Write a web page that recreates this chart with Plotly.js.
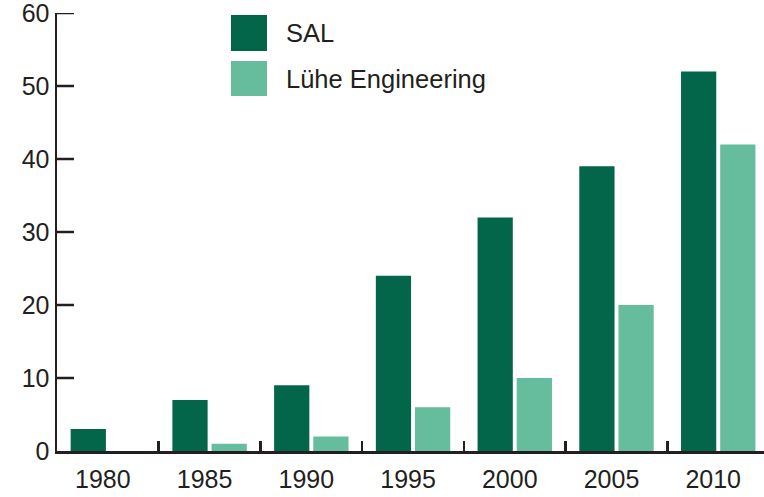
<!DOCTYPE html>
<html>
<head>
<meta charset="utf-8">
<script src="https://cdn.plot.ly/plotly-3.0.1.min.js"></script>
<style>html,body{margin:0;padding:0;background:#fff}#chart{width:764px;height:497px}</style>
</head>
<body>
<div id="chart"></div>
<script>
const years = ["1980", "1985", "1990", "1995", "2000", "2005", "2010"];
const salValues = [3, 7, 9, 24, 32, 39, 52];
const lueheValues = [0, 1, 2, 6, 10, 20, 42];
const seriesNames = ["SAL", "Lühe Engineering"];
const seriesColors = ["#03664b", "#66bd9d"];
const yTicks = [0, 10, 20, 30, 40, 50, 60];

const axisColor = "#231f20";
const fontFamily = "Liberation Sans, Arial, sans-serif";

const traces = [
  {type: "bar", x: years, y: salValues, name: seriesNames[0], marker: {color: seriesColors[0]}, showlegend: false, hoverinfo: "x+y+name"},
  {type: "bar", x: years, y: lueheValues, name: seriesNames[1], marker: {color: seriesColors[1]}, showlegend: false, hoverinfo: "x+y+name"}
];

// Legend drawn as shapes + annotations (paper coordinates)
const legendX0 = (231 - 57) / 707, legendX1 = (267 - 57) / 707;
const toPaperY = py => (451 - py) / 438;
const legendRows = [[15, 51], [61, 96]];
const shapes = legendRows.map((r, i) => ({
  type: "rect", xref: "paper", yref: "paper",
  x0: legendX0, x1: legendX1, y0: toPaperY(r[1]), y1: toPaperY(r[0]),
  fillcolor: seriesColors[i], line: {width: 0}
}));
// inward y tick marks
yTicks.filter(v => v > 0).forEach(v => shapes.push({
  type: "line", xref: "paper", yref: "y", x0: 0, x1: 17 / 707, y0: v, y1: v,
  line: {color: axisColor, width: 2.5}, layer: "above"
}));
const annotations = legendRows.map((r, i) => ({
  xref: "paper", yref: "paper", x: (284 - 57) / 707, y: toPaperY((r[0] + r[1]) / 2),
  xanchor: "left", yanchor: "middle", showarrow: false, text: seriesNames[i],
  font: {family: fontFamily, size: 25.5, color: "#231f20"}
}));

const layout = {
  width: 764, height: 497,
  margin: {l: 57, r: 0, t: 13, b: 46, pad: 0},
  paper_bgcolor: "#fff", plot_bgcolor: "#fff",
  barmode: "group", bargap: 0.23, bargroupgap: 0.1,
  font: {family: fontFamily, size: 25, color: "#231f20"},
  xaxis: {
    type: "category", range: [-0.5, 6.45],
    showgrid: false, zeroline: false,
    showline: true, linecolor: axisColor, linewidth: 2.5,
    ticks: "inside", tickson: "boundaries", ticklen: 10, tickwidth: 2.5, tickcolor: axisColor,
    ticklabelstandoff: 4, ticklabelshift: -5, ticklabeloverflow: "allow",
    tickfont: {family: fontFamily, size: 25, color: "#231f20"}
  },
  yaxis: {
    range: [0, 60], tickmode: "array", tickvals: yTicks, ticktext: yTicks.map(String),
    showgrid: false, zeroline: false,
    showline: true, linecolor: axisColor, linewidth: 2.5,
    ticks: "inside", ticklen: 17, tickwidth: 2.5, tickcolor: axisColor,
    ticklabeloverflow: "allow",
    tickfont: {family: fontFamily, size: 25, color: "#231f20"}
  },
  shapes: shapes,
  annotations: annotations
};

Plotly.newPlot("chart", traces, layout, {displayModeBar: false, staticPlot: true});
</script>
</body>
</html>
